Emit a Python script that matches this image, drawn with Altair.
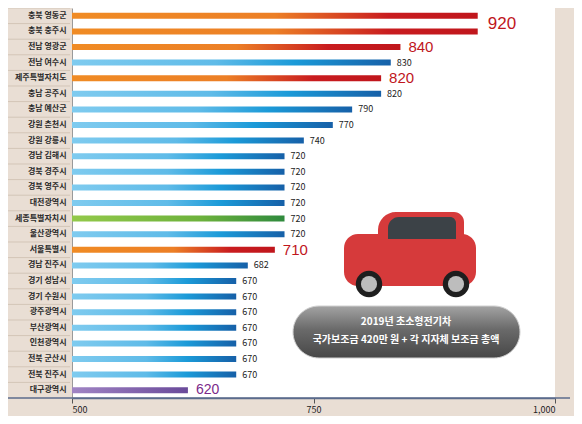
import altair as alt
import pandas as pd

regions = ["충북 영동군", "충북 충주시", "전남 영광군", "전남 여수시", "제주특별자치도",
           "충남 공주시", "충남 예산군", "강원 춘천시", "강원 강릉시", "경남 김해시",
           "경북 경주시", "경북 영주시", "대전광역시", "세종특별자치시", "울산광역시",
           "서울특별시", "경남 진주시", "경기 성남시", "경기 수원시", "광주광역시",
           "부산광역시", "인천광역시", "전북 군산시", "전북 진주시", "대구광역시"]
values = [920, 920, 840, 830, 820, 820, 790, 770, 740, 720, 720, 720, 720, 720, 720,
          710, 682, 670, 670, 670, 670, 670, 670, 670, 620]
groups = ["hi", "hi", "hi", "base", "hi", "base", "base", "base", "base", "base",
          "base", "base", "base", "green", "base", "hi", "base", "base", "base", "base",
          "base", "base", "base", "base", "purple"]
big_label = [1, 0, 1, 0, 1, 0, 0, 0, 0, 0, 0, 0, 0, 0, 0, 1, 0, 0, 0, 0, 0, 0, 0, 0, 0]

box_lines = ["2019년 초소형전기차", "국가보조금 420만 원 + 각 지자체  보조금  총액"]

df = pd.DataFrame({"region": regions, "value": values, "group": groups, "big": big_label})

FONT = "Noto Sans CJK KR"
H = 390
ysort = alt.Y("region:N", sort=regions,
              scale=alt.Scale(paddingInner=0, paddingOuter=0),
              axis=alt.Axis(title=None, ticks=False, labelFontSize=8, labelFontWeight="bold",
                            labelColor="#2a2a2a", labelPadding=6, domainColor="#9a9a9a",
                            labelFont=FONT))
xenc = alt.X("value:Q", scale=alt.Scale(domain=[500, 1000], zero=False, nice=False),
             axis=alt.Axis(title=None, values=[500, 750, 1000],
                           labelExpr="format(datum.value, ',')", grid=False,
                           domainColor="#5b6b8d", domainWidth=1.5, tickColor="#555",
                           tickSize=5, labelFontSize=9, labelColor="#222", labelPadding=2,
                           labelFont=FONT))
yplain = alt.Y("region:N", sort=regions)

def grad(stops):
    return alt.Gradient(gradient="linear", x1=0, x2=1, y1=0, y2=0,
                        stops=[alt.GradientStop(color=c, offset=o) for o, c in stops])

grads = {
    "base": grad([(0, "#7fcbef"), (0.45, "#5fbbe8"), (0.7, "#1b9ad8"), (1, "#1660a8")]),
    "hi": grad([(0, "#f08b24"), (0.5, "#ec7f26"), (0.78, "#c91c1f"), (1, "#c0161c")]),
    "green": grad([(0, "#93c94a"), (0.6, "#6db23c"), (1, "#2f8a3d")]),
    "purple": grad([(0, "#a084c4"), (1, "#6a4a9a")]),
}

base = alt.Chart(df)
layers = []

for g, gr in grads.items():
    layers.append(base.transform_filter(alt.datum.group == g).mark_bar(size=6, color=gr).encode(
        y=ysort, x=xenc, x2=alt.datum(500)))

# row separators in label column
layers.append(base.mark_rule(color="#d3c5b7", strokeWidth=1).encode(
    y=alt.Y("region:N", sort=regions, bandPosition=0), x=alt.value(-72), x2=alt.value(-2)))

# small value labels
layers.append(base.transform_filter("datum.group == 'base' || datum.group == 'green'")
              .mark_text(align="left", dx=6, fontSize=9, color="#222", font=FONT)
              .encode(y=yplain, x="value:Q", text="value:Q"))
# big red labels
layers.append(base.transform_filter("datum.big == 1 && datum.value != 920")
              .mark_text(align="left", dx=8, fontSize=15, color="#c0161c", font="Liberation Sans")
              .encode(y=yplain, x="value:Q", text="value:Q"))
layers.append(base.transform_filter("datum.big == 1 && datum.value == 920")
              .mark_text(align="left", dx=10, dy=8, fontSize=17, color="#c0161c", font="Liberation Sans")
              .encode(y=yplain, x="value:Q", text="value:Q"))
layers.append(base.transform_filter(alt.datum.group == "purple")
              .mark_text(align="left", dx=8, fontSize=14, color="#7b2a8a", font="Liberation Sans")
              .encode(y=yplain, x="value:Q", text="value:Q"))

one = alt.Chart(pd.DataFrame({"a": [0]}))
# extended x axis line
layers.append(one.mark_rule(color="#5b6b8d", strokeWidth=1.5).encode(
    x=alt.value(-72), x2=alt.value(498), y=alt.value(H)))

# simple car illustration
layers.append(one.mark_rect(color="#d63a3b", cornerRadius=14).encode(
    x=alt.value(272), x2=alt.value(404), y=alt.value(226), y2=alt.value(278)))
layers.append(one.mark_rect(color="#d63a3b", cornerRadiusTopLeft=20, cornerRadiusTopRight=10).encode(
    x=alt.value(306), x2=alt.value(392), y=alt.value(204), y2=alt.value(240)))
layers.append(one.mark_rect(color="#3c4247", cornerRadiusTopLeft=16, cornerRadiusTopRight=6).encode(
    x=alt.value(316), x2=alt.value(384), y=alt.value(209), y2=alt.value(231)))
for cx in (297, 384):
    layers.append(one.mark_point(filled=True, color="#1e1e1e", size=700, opacity=1).encode(
        x=alt.value(cx), y=alt.value(276)))
    layers.append(one.mark_point(filled=True, color="#bdbdbd", size=260, opacity=1).encode(
        x=alt.value(cx), y=alt.value(276)))

# info pill
pill_grad = alt.Gradient(gradient="linear", x1=0, x2=0, y1=0, y2=1,
                         stops=[alt.GradientStop(color="#a3a3a3", offset=0),
                                alt.GradientStop(color="#6a6a6a", offset=0.45),
                                alt.GradientStop(color="#474747", offset=1)])
layers.append(one.mark_rect(color=pill_grad, cornerRadius=26, stroke="#d0d0d0", strokeWidth=1).encode(
    x=alt.value(221), x2=alt.value(448), y=alt.value(298), y2=alt.value(350)))
for i, line in enumerate(box_lines):
    layers.append(one.mark_text(fontSize=10, fontWeight="bold", color="white", font=FONT,
                                text=line).encode(x=alt.value(334), y=alt.value(314 + 18 * i)))

chart = alt.layer(*layers).properties(
    width=483, height=H, background="#e9ded4",
    padding={"left": 64, "top": 0, "right": 19, "bottom": 18},
    autosize=alt.AutoSizeParams(type="none"),
).configure_view(fill="white", stroke=None)

chart.save("out.html", embed_options={"renderer": "svg", "actions": False})
